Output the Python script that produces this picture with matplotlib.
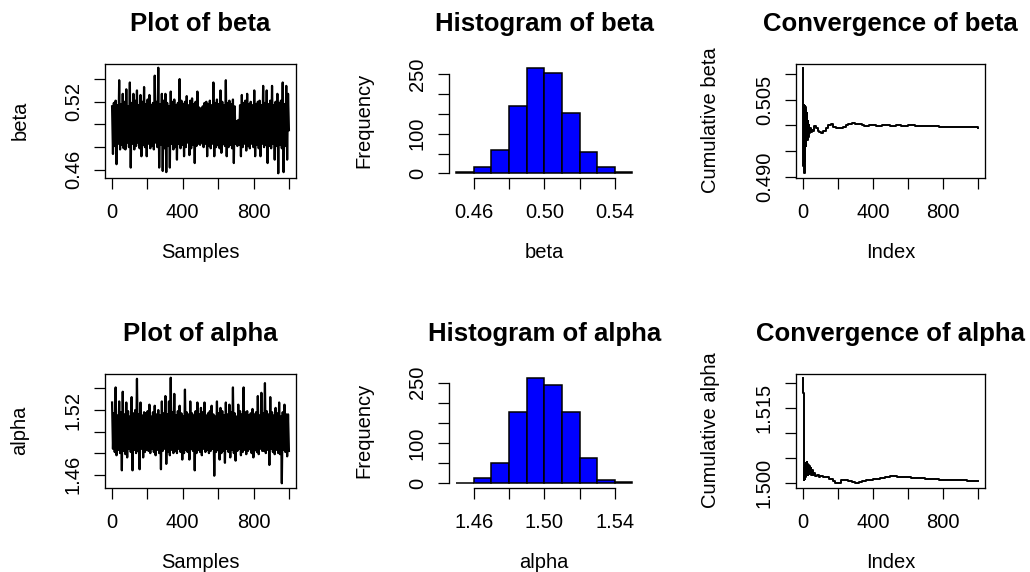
import numpy as np
import matplotlib
matplotlib.use("Agg")
import matplotlib.pyplot as plt
from matplotlib.ticker import FixedLocator, FixedFormatter

plt.rcParams['font.family'] = ['Liberation Sans', 'DejaVu Sans']

# ---------------- data ----------------
beta_trace = [
    0.516, 0.474, 0.519, 0.481, 0.521, 0.465, 0.517, 0.483, 0.539, 0.478,
    0.518, 0.482, 0.527, 0.479, 0.520, 0.478, 0.531, 0.484, 0.516, 0.480,
    0.537, 0.462, 0.519, 0.483, 0.527, 0.478, 0.521, 0.481, 0.530, 0.484,
    0.517, 0.479, 0.526, 0.472, 0.520, 0.482, 0.533, 0.480, 0.518, 0.472,
    0.522, 0.483, 0.526, 0.479, 0.517, 0.481, 0.519, 0.478, 0.543, 0.484,
    0.520, 0.480, 0.550, 0.462, 0.518, 0.482, 0.527, 0.459, 0.521, 0.479,
    0.527, 0.458, 0.519, 0.481, 0.516, 0.462, 0.529, 0.483, 0.520, 0.478,
    0.522, 0.480, 0.517, 0.469, 0.519, 0.483, 0.540, 0.479, 0.521, 0.482,
    0.518, 0.472, 0.520, 0.480, 0.525, 0.484, 0.517, 0.473, 0.521, 0.479,
    0.523, 0.482, 0.518, 0.466, 0.520, 0.481, 0.529, 0.483, 0.515, 0.482,
    0.514, 0.484, 0.516, 0.480, 0.519, 0.483, 0.520, 0.472, 0.518, 0.481,
    0.521, 0.479, 0.517, 0.483, 0.537, 0.472, 0.519, 0.480, 0.522, 0.482,
    0.518, 0.479, 0.530, 0.475, 0.520, 0.483, 0.517, 0.481, 0.539, 0.472,
    0.519, 0.480, 0.521, 0.482, 0.518, 0.479, 0.522, 0.466, 0.516, 0.483,
    0.503, 0.481, 0.504, 0.482, 0.517, 0.472, 0.526, 0.480, 0.519, 0.483,
    0.521, 0.477, 0.527, 0.481, 0.518, 0.479, 0.520, 0.483, 0.517, 0.480,
    0.530, 0.472, 0.518, 0.482, 0.520, 0.479, 0.521, 0.472, 0.517, 0.483,
    0.534, 0.480, 0.519, 0.482, 0.530, 0.466, 0.518, 0.481, 0.521, 0.479,
    0.534, 0.483, 0.517, 0.469, 0.520, 0.481, 0.527, 0.457, 0.519, 0.482,
    0.521, 0.479, 0.537, 0.458, 0.518, 0.481, 0.534, 0.469, 0.527, 0.495,
]

alpha_trace = [
    1.527, 1.484, 1.517, 1.481, 1.541, 1.478, 1.515, 1.483, 1.528, 1.480,
    1.518, 1.464, 1.537, 1.482, 1.516, 1.479, 1.527, 1.476, 1.519, 1.484,
    1.514, 1.481, 1.532, 1.464, 1.517, 1.483, 1.520, 1.480, 1.549, 1.482,
    1.516, 1.465, 1.527, 1.484, 1.515, 1.476, 1.518, 1.481, 1.517, 1.483,
    1.519, 1.482, 1.525, 1.480, 1.514, 1.484, 1.518, 1.481, 1.524, 1.478,
    1.516, 1.483, 1.520, 1.480, 1.515, 1.465, 1.528, 1.482, 1.517, 1.484,
    1.533, 1.470, 1.516, 1.481, 1.528, 1.478, 1.550, 1.483, 1.518, 1.480,
    1.535, 1.482, 1.515, 1.480, 1.519, 1.484, 1.524, 1.481, 1.517, 1.474,
    1.514, 1.480, 1.539, 1.483, 1.518, 1.481, 1.516, 1.474, 1.528, 1.484,
    1.517, 1.482, 1.515, 1.464, 1.519, 1.480, 1.527, 1.483, 1.516, 1.481,
    1.522, 1.478, 1.518, 1.484, 1.527, 1.481, 1.515, 1.483, 1.517, 1.480,
    1.519, 1.482, 1.524, 1.484, 1.516, 1.459, 1.514, 1.481, 1.528, 1.483,
    1.517, 1.474, 1.522, 1.480, 1.519, 1.482, 1.515, 1.471, 1.527, 1.484,
    1.516, 1.481, 1.525, 1.476, 1.518, 1.483, 1.541, 1.480, 1.517, 1.473,
    1.514, 1.482, 1.525, 1.484, 1.519, 1.478, 1.516, 1.481, 1.541, 1.483,
    1.518, 1.479, 1.519, 1.482, 1.515, 1.484, 1.517, 1.480, 1.521, 1.476,
    1.516, 1.483, 1.518, 1.481, 1.533, 1.479, 1.515, 1.484, 1.536, 1.482,
    1.517, 1.482, 1.545, 1.480, 1.519, 1.483, 1.516, 1.469, 1.532, 1.484,
    1.518, 1.481, 1.515, 1.479, 1.522, 1.483, 1.517, 1.480, 1.527, 1.479,
    1.514, 1.452, 1.518, 1.483, 1.525, 1.481, 1.516, 1.477, 1.516, 1.482,
]

hist_breaks_beta = [0.45, 0.46, 0.47, 0.48, 0.49, 0.50, 0.51, 0.52, 0.53, 0.54, 0.55]
hist_counts_beta = [2, 15, 58, 169, 267, 254, 153, 54, 16, 2]
hist_breaks_alpha = [1.45, 1.46, 1.47, 1.48, 1.49, 1.50, 1.51, 1.52, 1.53, 1.54, 1.55]
hist_counts_alpha = [1, 13, 50, 178, 262, 244, 178, 63, 9, 4]

conv_idx_beta = [1, 3, 5, 8, 10, 12, 14, 16, 18, 20, 22, 25, 28, 31, 34, 38, 42, 47,
                 52, 58, 66, 75, 85, 95, 104, 115, 130, 145, 160, 175, 190, 210,
                 230, 245, 260, 280, 300, 320, 335, 350, 380, 400, 420, 450, 480,
                 500, 530, 560, 600, 640, 680, 700, 740, 780, 800, 840, 870, 900,
                 940, 970, 1000]
conv_val_beta = [0.5112, 0.4921, 0.5040, 0.4907, 0.5038, 0.4930, 0.5035, 0.4960,
                 0.5030, 0.4977, 0.5025, 0.4972, 0.5009, 0.4978, 0.5000, 0.4985,
                 0.4995, 0.4988, 0.4992, 0.4990, 0.4998, 0.4995, 0.4990, 0.4988,
                 0.4986, 0.4990, 0.4995, 0.5000, 0.5003, 0.4997, 0.4995, 0.4995,
                 0.4996, 0.5000, 0.5003, 0.5004, 0.5003, 0.5003, 0.5000, 0.4999,
                 0.5000, 0.5001, 0.4999, 0.5000, 0.5000, 0.4999, 0.5000, 0.4999,
                 0.5000, 0.4999, 0.4999, 0.4998, 0.4998, 0.4996, 0.4996, 0.4997,
                 0.4996, 0.4997, 0.4996, 0.4996, 0.4995]

conv_idx_alpha = [1, 2, 5, 7, 9, 11, 13, 15, 17, 19, 21, 23, 25, 27, 30, 33, 36, 40,
                  44, 48, 52, 57, 62, 70, 80, 90, 100, 115, 130, 150, 170, 185,
                  200, 220, 240, 260, 280, 300, 320, 340, 360, 400, 440, 470, 500,
                  540, 580, 620, 660, 700, 740, 780, 820, 860, 900, 940, 970, 1000]
conv_val_alpha = [1.5211, 1.5181, 1.5178, 1.5005, 1.5030, 1.5008, 1.5035, 1.5012,
                  1.5040, 1.5018, 1.5042, 1.5020, 1.5038, 1.5015, 1.5036, 1.5018,
                  1.5034, 1.5020, 1.5030, 1.5016, 1.5026, 1.5015, 1.5020, 1.5014,
                  1.5016, 1.5012, 1.5014, 1.5012, 1.5012, 1.5008, 1.5003, 1.5000,
                  1.4999, 1.5005, 1.5006, 1.5004, 1.5001, 1.5000, 1.5001, 1.5004,
                  1.5006, 1.5008, 1.5009, 1.5012, 1.5013, 1.5012, 1.5011, 1.5010,
                  1.5010, 1.5008, 1.5007, 1.5006, 1.5006, 1.5005, 1.5005, 1.5003,
                  1.5003, 1.5003]

n_samples = 1000
x_ticks = [0, 200, 400, 600, 800, 1000]
x_ticklabels = ['0', '', '400', '', '800', '']

# ---------------- layout ----------------
W, H, DPI = 1030, 572, 100
fig = plt.figure(figsize=(W / DPI, H / DPI), dpi=DPI)

cols = [(105, 296), (449, 639.5), (796, 985)]
rows = [(63.5, 177.5), (373.5, 487.5)]

FS = 14.5
TFS = 18.5
TICK_LEN = 7.9


def make_ax(r, c):
    (l, rr), (t, b) = cols[c], rows[r]
    ax = fig.add_axes([l / W, (H - b) / H, (rr - l) / W, (b - t) / H])
    ax.tick_params(direction='out', length=TICK_LEN, width=0.9, labelsize=FS,
                   colors='black')
    ax.tick_params(axis='x', pad=10.5)
    ax.tick_params(axis='y', pad=8)
    for s in ax.spines.values():
        s.set_linewidth(0.95)
    return ax, rr - l, b - t


def finish(ax, w, h, title, xlabel, ylabel, yticks, ylabels, xticks, xlabels):
    ax.xaxis.set_major_locator(FixedLocator(xticks))
    ax.xaxis.set_major_formatter(FixedFormatter(xlabels))
    ax.yaxis.set_major_locator(FixedLocator(yticks))
    ax.yaxis.set_major_formatter(FixedFormatter(ylabels))
    for lab in ax.get_yticklabels():
        lab.set_rotation(90)
        lab.set_va('center')
    ax.set_title(title, fontsize=TFS, fontweight='bold', pad=23.4)
    ax.set_xlabel(xlabel, fontsize=FS, va='baseline')
    ax.set_ylabel(ylabel, fontsize=FS, va='center')
    ax.xaxis.set_label_coords(0.5, -80.0 / h)
    ax.yaxis.set_label_coords(-85.0 / w, 0.5)


def trace_panel(r, values, name, yticks, ylabels):
    ax, w, h = make_ax(r, 0)
    xs = np.linspace(1, n_samples, len(values))
    ax.plot(xs, values, color='black', lw=1.6)
    ax.margins(x=0.04, y=0.04)
    finish(ax, w, h, f'Plot of {name}', 'Samples', name, yticks, ylabels,
           x_ticks, x_ticklabels)


def hist_panel(r, breaks, counts, name, xticks, xlabels):
    ax, w, h = make_ax(r, 1)
    ax.bar(breaks[:-1], counts, width=np.diff(breaks), align='edge',
           color='#0000FF', edgecolor='black', linewidth=1.1)
    ax.use_sticky_edges = False
    ax.margins(x=0.04, y=0.04)
    ax.spines['top'].set_visible(False)
    ax.spines['right'].set_visible(False)
    ax.spines['left'].set_bounds(0, 250)
    ax.spines['bottom'].set_bounds(xticks[0], xticks[-1])
    finish(ax, w, h, f'Histogram of {name}', name, 'Frequency',
           [0, 50, 100, 150, 200, 250], ['0', '', '100', '', '', '250'],
           xticks, xlabels)


def conv_panel(r, idx, vals, name, yticks, ylabels):
    ax, w, h = make_ax(r, 2)
    ax.plot(idx, vals, color='black', lw=1.4, drawstyle='steps-post')
    ax.margins(x=0.04, y=0.04)
    ax.set_xlim(1 - 0.04 * 999, n_samples + 0.04 * 999)
    finish(ax, w, h, f'Convergence of {name}', 'Index', f'Cumulative {name}',
           yticks, ylabels, x_ticks, x_ticklabels)


trace_panel(0, beta_trace, 'beta', [0.46, 0.48, 0.50, 0.52, 0.54],
            ['0.46', '', '', '0.52', ''])
hist_panel(0, hist_breaks_beta, hist_counts_beta, 'beta',
           [0.46, 0.48, 0.50, 0.52, 0.54], ['0.46', '', '0.50', '', '0.54'])
conv_panel(0, conv_idx_beta, conv_val_beta, 'beta',
           [0.490, 0.495, 0.500, 0.505, 0.510], ['0.490', '', '', '0.505', ''])

trace_panel(1, alpha_trace, 'alpha', [1.46, 1.48, 1.50, 1.52, 1.54],
            ['1.46', '', '', '1.52', ''])
hist_panel(1, hist_breaks_alpha, hist_counts_alpha, 'alpha',
           [1.46, 1.48, 1.50, 1.52, 1.54], ['1.46', '', '1.50', '', '1.54'])
conv_panel(1, conv_idx_alpha, conv_val_alpha, 'alpha',
           [1.500, 1.505, 1.510, 1.515, 1.520], ['1.500', '', '', '1.515', ''])

fig.savefig('out.png', dpi=DPI, facecolor='white')
